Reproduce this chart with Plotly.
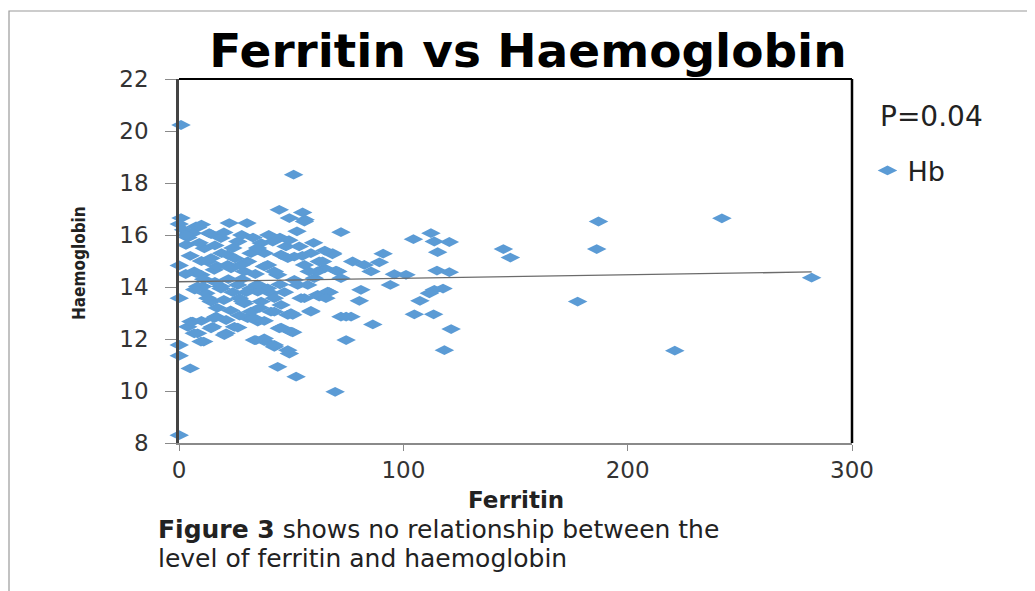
import plotly.graph_objects as go

# Ferritin (x) and Haemoglobin (y) values
ferritin = [
    0.9, 0.1, 51.1, 44.7, 49.2, 55.1, 56.2, 52.6, 0.9, 0.1, 30.3, 22.4, 8.3, 14.3,
    0.1, 0.1, 0.1, 0.1, 5.0,
    6.1, 3.9, 8.3, 11.0, 15.0, 16.5, 21.0, 26.2, 30.6, 34.3, 38.0, 42.5, 44.7, 49.9, 49.2, 44.0, 52.2,
    58.8, 50.7, 35.1, 41.0, 29.1, 26.9, 33.6, 14.3, 12.0, 8.3, 9.8, 12.8, 18.7, 26.2, 32.1, 36.6, 41.0,
    45.5, 48.5, 55.9, 61.8, 52.9, 60.3, 64.8, 55.9, 48.5, 39.5, 30.6, 21.7, 14.3, 6.8, 29.1, 44.0,
    55.9, 72.2, 41.8, 47.7, 53.6, 58.8, 68.5, 38.0, 45.5, 51.4, 62.5, 77.4, 42.5, 61.8, 70.8, 51.4,
    57.4, 39.5, 66.3, 62.5, 54.4, 42.5, 42.5, 49.9, 58.8, 72.2, 76.7, 45.5, 50.7, 74.5, 38.0, 42.5, 48.5,
    7.6, 6.1, 13.5, 18.7, 26.2, 36.6, 3.1, 11.3, 32.1, 21.7, 7.6, 15.7, 23.2, 38.0, 27.6, 10.6, 18.7,
    35.1, 12.8, 28.4, 32.1, 5.3, 15.7, 21.0, 14.3, 6.8, 24.7, 20.2, 9.8, 33.6,
    68.4, 64.0, 82.6, 91.0, 89.3, 85.6, 70.0, 72.2, 96.0, 101.2, 94.2, 67.0, 65.5, 81.1, 80.4, 74.5,
    86.4, 69.6, 104.5, 112.3, 113.8, 120.5, 115.3, 115.0, 120.5, 113.8, 111.6, 107.4, 104.9, 113.5,
    121.3, 118.3, 117.7,
    187.0, 186.2, 144.6, 147.7, 177.7, 221.0, 242.0, 282.0,
    2, 4, 9, 16, 19, 24, 28, 33, 5, 10, 17, 25, 35, 20, 3, 11, 16, 22, 28, 34, 24, 30, 20, 7, 17, 23,
    36, 27, 10, 38, 45, 35, 47, 58, 55, 60, 65, 40, 45, 49, 10, 3,
]
haemoglobin = [
    20.23, 8.3, 18.32, 16.97, 16.65, 16.87, 16.59, 16.14, 16.65, 16.42, 16.46, 16.46, 16.29, 16.03,
    14.83, 13.57, 11.77, 11.36, 10.87,
    12.67, 12.47, 12.22, 11.9, 12.47, 12.86, 12.22, 12.44, 12.8, 11.96, 11.92, 11.7, 12.41, 12.28, 11.44, 10.93, 10.55,
    13.08, 12.93, 12.67, 13.05, 13.37, 13.57, 12.8, 13.44, 13.76, 14.02, 14.47, 14.98, 13.94, 14.08, 13.94, 13.44, 13.76,
    13.31, 12.93, 13.57, 13.7, 14.08, 14.34, 14.72, 14.85, 15.11, 14.85, 14.98, 14.85, 15.11, 14.6, 14.6, 14.47,
    16.52, 16.11, 15.75, 15.56, 15.56, 15.3, 15.3, 15.3, 15.24, 15.17, 14.98, 14.98, 14.6, 14.6, 14.6, 14.27,
    14.08, 13.95, 13.82, 13.63, 13.57, 13.57, 13.05, 12.99, 13.05, 12.86, 12.86, 12.44, 12.26, 11.96, 12.02, 11.77, 11.57,
    16.33, 16.07, 16.07, 15.88, 15.75, 15.69, 15.62, 15.49, 15.3, 15.24, 14.53, 14.66, 14.72, 14.79, 14.85, 14.02, 14.02,
    13.82, 13.57, 13.44, 13.05, 12.67, 12.8, 12.73, 12.41, 12.22, 12.47, 12.15, 11.9, 11.96,
    15.26, 14.98, 14.85, 15.28, 14.95, 14.6, 14.63, 14.34, 14.49, 14.47, 14.08, 13.8, 13.57, 13.89, 13.47, 12.86,
    12.56, 9.97, 15.84, 16.07, 15.75, 15.73, 15.34, 14.63, 14.57, 13.89, 13.76, 13.47, 12.95, 12.95,
    12.38, 11.57, 13.94,
    16.52, 15.46, 15.46, 15.13, 13.44, 11.55, 16.64, 14.36,
    16.2, 15.9, 15.7, 15.6, 15.3, 15.5, 16.0, 15.9, 15.2, 15.0, 14.8, 15.1, 15.5, 16.1, 14.5, 14.3, 14.2, 14.3, 14.3, 14.5, 13.8, 13.8, 13.5, 13.9, 13.2, 13.1,
    13.2, 12.9, 12.7, 12.7, 14.1, 14.1, 13.8, 14.6, 15.2, 15.7, 15.4, 16.0, 15.9, 15.8, 16.4, 16.0,
]

# Linear trend line end points
trend_x = [0, 282]
trend_y = [14.2, 14.58]

x_ticks = [0, 100, 200, 300]
y_ticks = [8, 10, 12, 14, 16, 18, 20, 22]

fig = go.Figure()
fig.add_trace(go.Scatter(
    x=ferritin, y=haemoglobin, mode="markers", name="Hb",
    marker=dict(symbol="diamond-wide", size=14, color="#5B9BD5", line=dict(width=0)),
    cliponaxis=False,
))
fig.add_trace(go.Scatter(
    x=trend_x, y=trend_y, mode="lines", showlegend=False,
    line=dict(color="#6b6b6b", width=1.4), hoverinfo="skip",
))

tick_font = dict(family="DejaVu Sans", size=23, color="#333333")
fig.update_layout(
    width=1035, height=591,
    margin=dict(l=171, r=191, t=71, b=156),
    paper_bgcolor="white", plot_bgcolor="white",
    title=dict(text="<b>Ferritin vs Haemoglobin</b>", x=520 / 1035, xanchor="center",
               y=1 - 43 / 591, yanchor="middle", yref="container",
               font=dict(family="DejaVu Sans", size=47, color="black")),
    showlegend=True,
    legend=dict(x=1.023, y=0.815, xanchor="left", yanchor="top",
                font=dict(family="DejaVu Sans", size=27, color="#222222"),
                bgcolor="rgba(0,0,0,0)"),
    xaxis=dict(range=[0, 300], tickvals=x_ticks, showgrid=False, zeroline=False,
               showline=True, linecolor="#8a8a8a", linewidth=1.5,
               ticks="outside", ticklen=6, tickcolor="#8a8a8a", tickwidth=1.2,
               ticklabelstandoff=0, tickfont=tick_font),
    yaxis=dict(range=[8, 22], tickvals=y_ticks, showgrid=False, zeroline=False,
               showline=True, linecolor="#444444", linewidth=2.5,
               ticks="outside", ticklen=11, tickcolor="#8a8a8a", tickwidth=1.2,
               ticklabelstandoff=12, tickfont=tick_font),
)

# plot frame (top and right) and outer chart border
fig.add_shape(type="line", xref="paper", yref="paper", x0=0, x1=1, y0=1, y1=1,
              line=dict(color="black", width=1.8))
fig.add_shape(type="line", xref="paper", yref="paper", x0=1, x1=1, y0=0, y1=1,
              line=dict(color="black", width=2.5))
fig.add_shape(type="rect", xref="paper", yref="paper", x0=-0.2526, x1=1.32,
              y0=-0.5, y1=1.1868, line=dict(color="#9a9a9a", width=1.2), layer="below")

fig.add_annotation(text="P=0.04", xref="paper", yref="paper", x=1.0386, y=0.898,
                   xanchor="left", yanchor="middle", showarrow=False,
                   font=dict(family="DejaVu Sans", size=28, color="#222222"))
fig.add_annotation(text="<b>Ferritin</b>", xref="paper", yref="paper", x=0.5007, y=-0.156,
                   xanchor="center", yanchor="middle", showarrow=False,
                   font=dict(family="DejaVu Sans", size=23, color="#222222"))
fig.add_annotation(text="<b>Haemoglobin</b>", xref="paper", yref="paper", x=-0.1486, y=0.4945,
                   xanchor="center", yanchor="middle", showarrow=False, textangle=-90,
                   font=dict(family="DejaVu Sans Condensed, Liberation Sans Narrow, DejaVu Sans", size=17,
                             color="#222222"))
fig.add_annotation(text="<b>Figure 3</b> shows no relationship between the", xref="paper", yref="paper",
                   x=-0.034, y=-0.238, xanchor="left", yanchor="middle", showarrow=False,
                   font=dict(family="DejaVu Sans", size=25, color="#222222"))
fig.add_annotation(text="level of ferritin and haemoglobin", xref="paper", yref="paper",
                   x=-0.034, y=-0.318, xanchor="left", yanchor="middle", showarrow=False,
                   font=dict(family="DejaVu Sans", size=25, color="#222222"))

fig.write_html("out.html")
